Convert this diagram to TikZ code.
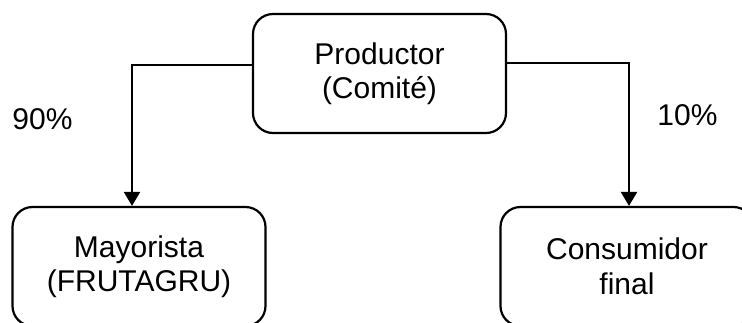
\documentclass[tikz,border=0pt]{standalone}
\usepackage{fontspec}
\setmainfont{Liberation Sans}
\usetikzlibrary{arrows.meta}
\begin{document}
\begin{tikzpicture}[x=1pt,y=-1pt,
  box/.style={draw=black,line width=2.2pt,rounded corners=20pt,minimum width=253pt,minimum height=119pt,align=center,inner sep=0pt,font=\fontsize{30}{34.5}\selectfont},
  lbl/.style={inner sep=0pt,font=\fontsize{30}{34.5}\selectfont},
  arr/.style={line width=2.2pt,-{Triangle[width=16pt,length=14pt]}}]
\useasboundingbox (0,0) rectangle (742,322);
\clip (0,0) rectangle (742,322);
\node[box] (prod) at (379.5,73.5) {Productor\\(Comité)};
\node[box] (may) at (139,266.5) {Mayorista\\(FRUTAGRU)};
\node[box] (con) at (627,266.5) {Consumidor\\final};
\node[lbl] (p90) at (42.5,119.5) {90\%};
\node[lbl] (p10) at (687.5,115) {10\%};
\draw[arr] ([yshift=8.5pt]prod.west) -| ([xshift=-7pt]may.north);
\draw[arr] ([yshift=10.5pt]prod.east) -| ([xshift=2pt]con.north);
\end{tikzpicture}
\end{document}
